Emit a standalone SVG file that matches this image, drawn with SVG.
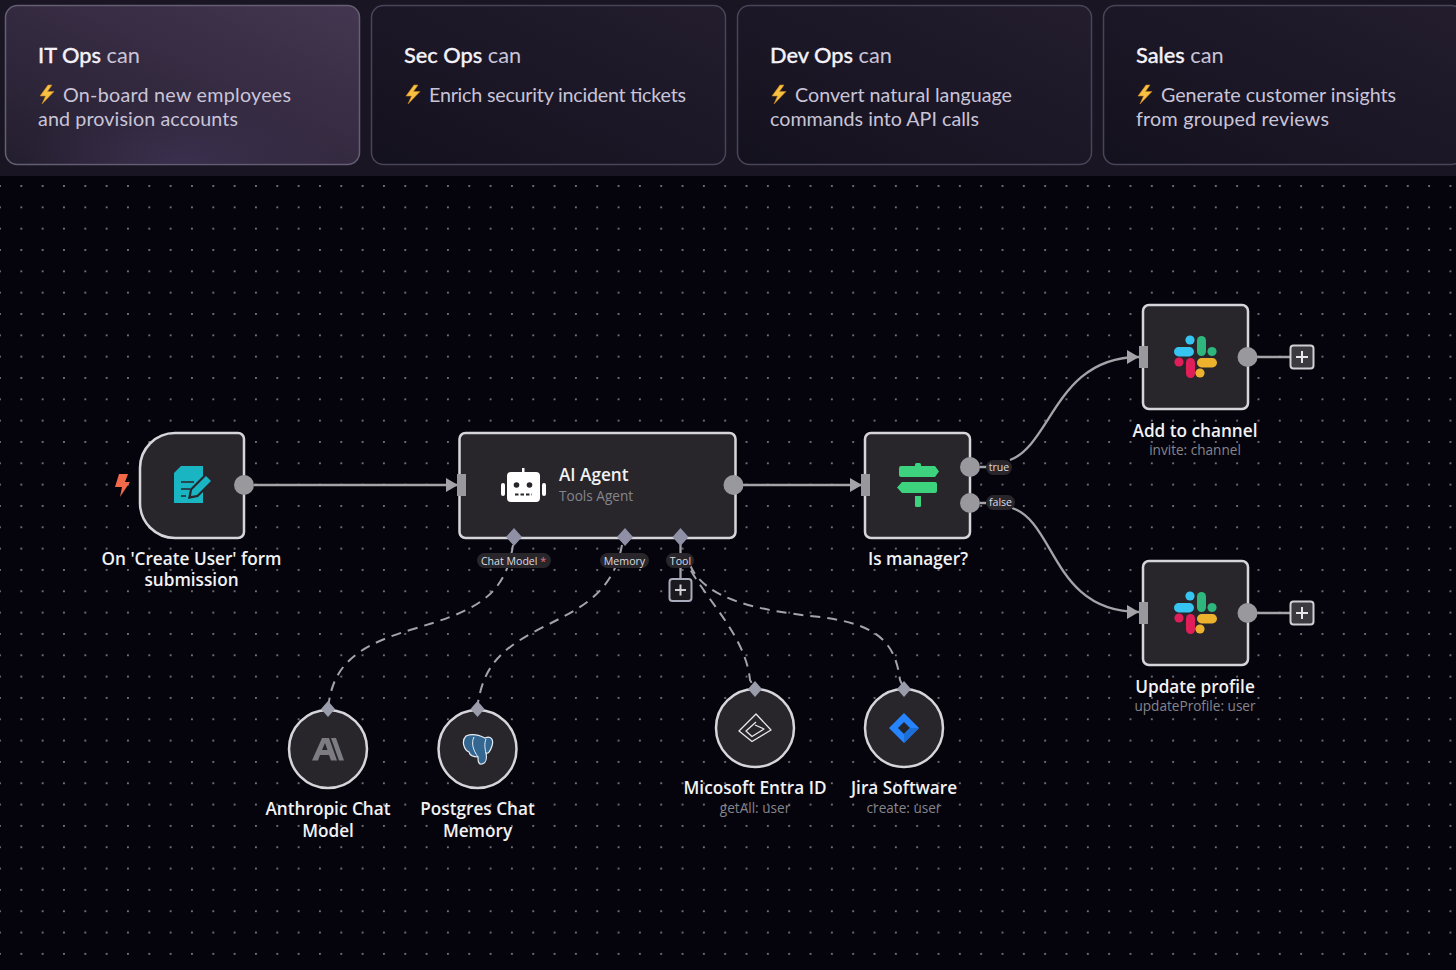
<svg xmlns="http://www.w3.org/2000/svg" width="1456" height="970" viewBox="0 0 1456 970">
<style>
.card{stroke:#4a4458;stroke-width:1.5}
.h{font:500 21.8px "Lato","Liberation Sans",sans-serif;fill:#f4f2f8;stroke:#f4f2f8;stroke-width:.3}
.h tspan{font-weight:400;fill:#c9c4d6;stroke:none}
.b{font:400 19.7px "Lato","Liberation Sans",sans-serif;fill:#c9c4d8}
.node{fill:#28252b;stroke:#d6d6da;stroke-width:2.5}
.lbl{font:600 17.2px "Open Sans","Liberation Sans",sans-serif;fill:#f2f2f4;text-anchor:middle}
.sub{font:400 13.6px "Open Sans","Liberation Sans",sans-serif;fill:#85858c;text-anchor:middle}
.pill{fill:#28262b}
.pt{font:400 10.6px "Open Sans","Liberation Sans",sans-serif;fill:#dcdce0;text-anchor:middle}
.edge{fill:none;stroke:#a3a3a8;stroke-width:2.3}
.dash{fill:none;stroke:#a3a3ad;stroke-width:2;stroke-dasharray:10 7}
.port{fill:#98989d}
.dia{fill:#8f90a6}
.plusbox{fill:#3b3b3f;stroke:#cfcfd4;stroke-width:2}
.plus{stroke:#e8e8ea;stroke-width:2;fill:none}
</style>
<defs>
<pattern id="dots" x="0" y="186" width="21.33" height="21.33" patternUnits="userSpaceOnUse"><circle cx="21.33" cy="0" r="1" fill="#8a8790"/><circle cx="0" cy="0" r="1" fill="#8a8790"/><circle cx="21.33" cy="21.33" r="1" fill="#8a8790"/><circle cx="0" cy="21.33" r="1" fill="#8a8790"/></pattern>
<linearGradient id="c1" x1="1" y1="0" x2="0" y2="1"><stop offset="0" stop-color="#443650"/><stop offset=".55" stop-color="#33293f"/><stop offset="1" stop-color="#231e2e"/></linearGradient>
<radialGradient id="c1b" cx=".5" cy="1" r=".45"><stop offset="0" stop-color="#3c3150" stop-opacity=".9"/><stop offset="1" stop-color="#3c3150" stop-opacity="0"/></radialGradient>
<linearGradient id="c2" x1="1" y1="0" x2="0" y2="1"><stop offset="0" stop-color="#231d2e"/><stop offset="1" stop-color="#14111e"/></linearGradient>
<marker id="arr" viewBox="0 0 12 14" refX="12" refY="7" markerWidth="12" markerHeight="14" markerUnits="userSpaceOnUse" orient="auto"><path d="M0 0L12 7L0 14Z" fill="#a3a3a8"/></marker>
<polygon id="bolt" points="9,0 1,11 6.5,11 3,19 15,6.5 8.5,6.5 13,0" fill="#f7c242" stroke="#c9801e" stroke-width=".6"/>
<g id="slack">
<circle cx="-5" cy="-17" r="4.6" fill="#36c5f0"/><rect x="-21" y="-10" width="20" height="9.500" rx="4.700" fill="#36c5f0"/>
<rect x="2" y="-21" width="9" height="20" rx="4.500" fill="#2eb67d"/><circle cx="17" cy="-5.5" r="4.6" fill="#2eb67d"/>
<circle cx="-16" cy="5" r="4.6" fill="#e01e5a"/><rect x="-9" y="1" width="9" height="20" rx="4.500" fill="#e01e5a"/>
<rect x="2" y="1" width="20" height="9.500" rx="4.700" fill="#ecb22e"/><circle cx="5" cy="16" r="4.6" fill="#ecb22e"/>
</g>
</defs>
<rect width="1456" height="970" fill="#05040d"/>
<rect y="176" width="1456" height="794" fill="url(#dots)"/>
<rect width="1456" height="176" fill="#191523"/>
<g id="card-it"><rect class="card" x="5.5" y="5.5" width="354" height="159" rx="12" fill="url(#c1)" style="stroke:#665f74"/><rect x="6" y="6" width="353" height="158" rx="12" fill="url(#c1b)"/><text class="h" x="38" y="63">IT Ops <tspan>can</tspan></text><use href="#bolt" x="39" y="85"/><text class="b" x="63" y="102" textLength="228">On-board new employees</text><text class="b" x="38" y="126" textLength="200">and provision accounts</text></g>
<g id="card-sec"><rect class="card" x="371.5" y="5.5" width="354" height="159" rx="12" fill="url(#c2)"/><text class="h" x="404" y="63">Sec Ops <tspan>can</tspan></text><use href="#bolt" x="405" y="85"/><text class="b" x="429" y="102" textLength="257">Enrich security incident tickets</text></g>
<g id="card-dev"><rect class="card" x="737.5" y="5.5" width="354" height="159" rx="12" fill="url(#c2)"/><text class="h" x="770" y="63">Dev Ops <tspan>can</tspan></text><use href="#bolt" x="771" y="85"/><text class="b" x="795" y="102" textLength="217">Convert natural language</text><text class="b" x="770" y="126" textLength="209">commands into API calls</text></g>
<g id="card-sales"><rect class="card" x="1103.5" y="5.5" width="360" height="159" rx="12" fill="url(#c2)"/><text class="h" x="1136" y="63">Sales <tspan>can</tspan></text><use href="#bolt" x="1137" y="85"/><text class="b" x="1161" y="102" textLength="235">Generate customer insights</text><text class="b" x="1136" y="126" textLength="193">from grouped reviews</text></g>

<g id="connectors">
<path class="edge" d="M254 485H458" marker-end="url(#arr)"/>
<path class="edge" d="M743 485H862" marker-end="url(#arr)"/>
<path class="edge" d="M1010 460C1052 444 1056 357 1139 357" marker-end="url(#arr)"/>
<path class="edge" d="M1012 508C1056 522 1052 612 1139 612" marker-end="url(#arr)"/>
<path class="edge" d="M980 467H988M980 503H986"/>
<path class="edge" d="M1257 357H1290M1257 613H1290"/>
<path class="edge" d="M680.500 537V578" stroke-width="2.500"/>
<path class="dash" d="M513 545C505 600 470 612 410 630C350 648 332 670 328 709"/>
<path class="dash" d="M622 545C612 600 570 612 530 634C495 654 482 672 477 709"/>
<path class="dash" d="M684 555C695 590 745 630 750 680L755 689"/>
<path class="dash" d="M690 565C705 600 760 610 810 616C875 622 895 640 900 680L904 689"/>
</g>

<g id="node-trigger"><path class="node" d="M175 433H238a6 6 0 0 1 6 6V532a6 6 0 0 1-6 6H175a35 35 0 0 1-35-35V468a35 35 0 0 1 35-35Z"/>
<path d="M119 474H128L125 482H130L120 497L122 487H115Z" fill="#f2694a"/>
<path d="M181 466H203V503H174V473Z" fill="#19b5c3"/><path d="M181 482H194M181 489H190M181 496H186" stroke="#28252b" stroke-width="1.500" fill="none"/>
<path d="M188 499L190 489L206 473L214 481L198 497Z" fill="#28252b"/>
<path d="M191 496L192 490L206 476L211 481L197 495Z" fill="#19b5c3"/>
<circle class="port" cx="244" cy="485" r="10"/>
<text class="lbl" x="191.500" y="564.500">On 'Create User' form</text><text class="lbl" x="191.500" y="585.500">submission</text></g>

<g id="node-agent"><rect class="node" x="459.500" y="433" width="276" height="105" rx="6"/>
<rect class="port" x="457" y="474" width="9" height="22"/>
<g fill="#fff"><rect x="507" y="472" width="33" height="30" rx="4"/><rect x="501" y="483" width="4" height="13" rx="2"/><rect x="542" y="483" width="4" height="13" rx="2"/><rect x="522" y="468" width="2.500" height="5"/></g>
<circle cx="516.500" cy="485" r="2.800" fill="#28252b"/><circle cx="529.500" cy="485" r="2.800" fill="#28252b"/><path d="M515 494.500H532" stroke="#28252b" stroke-width="2" stroke-dasharray="3.500 2"/>
<text x="559" y="481" style="font:600 17.200px 'Open Sans','Liberation Sans',sans-serif;fill:#f2f2f4">AI Agent</text>
<text x="559" y="501" style="font:400 13.600px 'Open Sans','Liberation Sans',sans-serif;fill:#85858c">Tools Agent</text>
<circle class="port" cx="733.500" cy="485" r="10"/>
<path class="dia" d="M514 528L522 537L514 546L506 537ZM625 528L633 537L625 546L617 537ZM680.500 528L688.500 537L680.500 546L672.500 537Z"/>
<rect class="pill" x="477" y="553" width="74" height="15" rx="7.500"/><text class="pt" x="513.500" y="564.500">Chat Model <tspan fill="#e8737a">*</tspan></text>
<rect class="pill" x="600" y="553" width="49" height="15" rx="7.500"/><text class="pt" x="624.500" y="564.500">Memory</text>
<rect class="pill" x="666" y="553" width="28" height="15" rx="7.500"/><text class="pt" x="680.500" y="564.500">Tool</text>
<rect class="plusbox" x="669.500" y="579" width="22" height="22" rx="3" style="fill:#1a1a1f;stroke:#a9aabb"/><path class="plus" d="M675 590H686M680.500 584.500V595.500" style="stroke:#cfcfd8"/></g>

<g id="node-if"><rect class="node" x="865" y="433" width="105" height="105" rx="6"/>
<rect class="port" x="861" y="474" width="9" height="22"/>
<rect x="915" y="463" width="6" height="44" rx="1.500" fill="#3dd27d"/>
<path d="M901 466H935L939 471.500L935 477H901Q899 477 899 475V468Q899 466 901 466ZM902 482H935Q937 482 937 484V491Q937 493 935 493H902L897 487.500Z" fill="#3dd27d"/>
<path d="M915 479.500H921" stroke="#28252b" stroke-width="5"/><path d="M915 494.500H921" stroke="#28252b" stroke-width="3"/>
<circle class="port" cx="970" cy="467" r="10"/><circle class="port" cx="970" cy="503" r="10"/>
<rect class="pill" x="986" y="460" width="26" height="15" rx="7.500"/><text class="pt" x="999" y="471">true</text>
<rect class="pill" x="986" y="495" width="29" height="15" rx="7.500"/><text class="pt" x="1000.500" y="506">false</text>
<text class="lbl" x="918" y="564.500">Is manager?</text></g>

<g id="node-add"><rect class="node" x="1143" y="305" width="105" height="104" rx="6"/><rect class="port" x="1139" y="346" width="9" height="22"/><use href="#slack" x="1195" y="357"/><circle class="port" cx="1247.500" cy="357" r="10"/>
<rect class="plusbox" x="1290.500" y="345.500" width="23" height="23" rx="3"/><path class="plus" d="M1296 357H1308M1302 351V363"/>
<text class="lbl" x="1195" y="436.500">Add to channel</text><text class="sub" x="1195" y="455">invite: channel</text></g>

<g id="node-update"><rect class="node" x="1143" y="561" width="105" height="104" rx="6"/><rect class="port" x="1139" y="602" width="9" height="22"/><use href="#slack" x="1195" y="613"/><circle class="port" cx="1247.500" cy="613" r="10"/>
<rect class="plusbox" x="1290.500" y="601.500" width="23" height="23" rx="3"/><path class="plus" d="M1296 613H1308M1302 607V619"/>
<text class="lbl" x="1195" y="692.500">Update profile</text><text class="sub" x="1195" y="711">updateProfile: user</text></g>

<g id="node-anthropic"><circle class="node" cx="328" cy="749" r="39"/>
<path d="M312 760.500L322 738H329L337 760.500H331L329 755H320L318 760.500ZM322 750H327.500L325 743Z" fill="#7c7c82" fill-rule="evenodd"/><path d="M331 738H336L344 760.500H339Z" fill="#7c7c82"/>
<path class="dia" d="M328 701L335 709L328 717L321 709Z" style="fill:#9a9bab"/>
<text class="lbl" x="328" y="814.500">Anthropic Chat</text><text class="lbl" x="328" y="836.500">Model</text></g>

<g id="node-postgres"><circle class="node" cx="477.500" cy="749" r="39"/>
<path d="M466 736C473 733 481 736 485 738C491 735 494 740 492 746C490 752 488 754 486 753C487 758 486 763 482 764C478 765 478 760 478 757C473 757 470 756 469 752C464 750 461 741 466 736Z" fill="#336791" stroke="#e8eef4" stroke-width="1.200"/>
<path d="M474 737C471 743 473 750 478 757M486 739C484 744 485 749 486 753" fill="none" stroke="#e8eef4" stroke-width="1"/>
<path class="dia" d="M477.500 701L484.500 709L477.500 717L470.500 709Z" style="fill:#9a9bab"/>
<text class="lbl" x="477.500" y="814.500">Postgres Chat</text><text class="lbl" x="477.500" y="836.500">Memory</text></g>

<g id="node-entra"><circle class="node" cx="755" cy="728" r="39"/>
<path d="M756 714L739 731L752 741.500L771 730L756 714ZM756 722L746 731L752 736.500L764 729L755 725" fill="none" stroke="#e8e8ea" stroke-width="1.300" stroke-linejoin="round"/>
<path class="dia" d="M755 681L762 689L755 697L748 689Z" style="fill:#9a9bab"/>
<text class="lbl" x="755" y="793.500">Micosoft Entra ID</text><text class="sub" x="755" y="813">getAll: user</text></g>

<g id="node-jira"><circle class="node" cx="904" cy="728" r="39"/>
<path d="M904 713L919 728L904 743L889 728Z" fill="#2684ff"/><path d="M904 722L910 728L904 734L898 728Z" fill="#23252b"/><path d="M904 734L910 728L919 728L904 743Z" fill="#1c6fd8"/>
<path class="dia" d="M904 681L911 689L904 697L897 689Z" style="fill:#9a9bab"/>
<text class="lbl" x="904" y="793.500">Jira Software</text><text class="sub" x="904" y="813">create: user</text></g>
</svg>
